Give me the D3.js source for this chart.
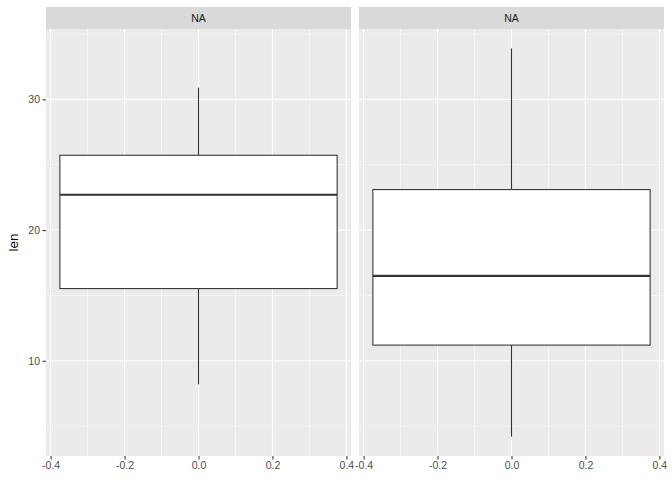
<!DOCTYPE html>
<html><head><meta charset="utf-8">
<script src="https://cdn.jsdelivr.net/npm/d3@7"></script>
<style>body{margin:0;background:#fff}</style>
</head><body>
<svg id="c" width="672" height="480"></svg>
<script>
const panels = ["NA", "NA"];
const mins = [8.2, 4.2];
const q1s = [15.525, 11.2];
const medians = [22.7, 16.5];
const q3s = [25.725, 23.1];
const maxs = [30.9, 33.9];
const xTicks = [-0.4, -0.2, 0, 0.2, 0.4];
const xMinor = [-0.3, -0.1, 0.1, 0.3];
const yTicks = [10, 20, 30];
const yMinor = [5, 15, 25, 35];

const svg = d3.select("#c");
const font = "Liberation Sans, Arial, sans-serif";
const panelX = [46, 359], panelW = 305;
const plotTop = 29, plotBottom = 456, stripTop = 7;

const y = d3.scaleLinear().domain([2.715, 35.385]).range([plotBottom, plotTop]);

panels.forEach((lab, i) => {
  const x = d3.scaleLinear().domain([-0.4125, 0.4125]).range([panelX[i], panelX[i] + panelW]);
  const g = svg.append("g");
  g.append("rect").attr("x", panelX[i]).attr("y", plotTop).attr("width", panelW).attr("height", plotBottom - plotTop).attr("fill", "#EBEBEB");
  xMinor.forEach(v => g.append("line").attr("x1", x(v)).attr("x2", x(v)).attr("y1", plotTop).attr("y2", plotBottom).attr("stroke", "#fff").attr("stroke-width", 0.53));
  yMinor.forEach(v => g.append("line").attr("x1", panelX[i]).attr("x2", panelX[i] + panelW).attr("y1", y(v)).attr("y2", y(v)).attr("stroke", "#fff").attr("stroke-width", 0.53));
  xTicks.forEach(v => g.append("line").attr("x1", x(v)).attr("x2", x(v)).attr("y1", plotTop).attr("y2", plotBottom).attr("stroke", "#fff").attr("stroke-width", 1.07));
  yTicks.forEach(v => g.append("line").attr("x1", panelX[i]).attr("x2", panelX[i] + panelW).attr("y1", y(v)).attr("y2", y(v)).attr("stroke", "#fff").attr("stroke-width", 1.07));
  g.append("rect").attr("x", panelX[i]).attr("y", stripTop).attr("width", panelW).attr("height", plotTop - stripTop).attr("fill", "#D9D9D9");
  g.append("text").attr("x", panelX[i] + panelW / 2).attr("y", (stripTop + plotTop) / 2).attr("dy", "0.35em")
    .attr("text-anchor", "middle").attr("font-family", font).attr("font-size", 10.5).attr("fill", "#1A1A1A").text(lab);
  g.append("line").attr("x1", x(0)).attr("x2", x(0)).attr("y1", y(q3s[i])).attr("y2", y(maxs[i])).attr("stroke", "#333").attr("stroke-width", 1.07);
  g.append("line").attr("x1", x(0)).attr("x2", x(0)).attr("y1", y(q1s[i])).attr("y2", y(mins[i])).attr("stroke", "#333").attr("stroke-width", 1.07);
  g.append("rect").attr("x", x(-0.375)).attr("y", y(q3s[i])).attr("width", x(0.375) - x(-0.375)).attr("height", y(q1s[i]) - y(q3s[i]))
    .attr("fill", "#fff").attr("stroke", "#333").attr("stroke-width", 1.07);
  g.append("line").attr("x1", x(-0.375)).attr("x2", x(0.375)).attr("y1", y(medians[i])).attr("y2", y(medians[i])).attr("stroke", "#333").attr("stroke-width", 2.13);
  const ax = d3.axisBottom(x).tickValues(xTicks).tickSize(3.5).tickPadding(2.5);
  const axg = svg.append("g").attr("transform", `translate(0,${plotBottom})`).call(ax);
  axg.select(".domain").remove();
  axg.selectAll(".tick line").attr("stroke", "#333").attr("stroke-width", 1.07);
  axg.selectAll(".tick text").attr("fill", "#4D4D4D").attr("font-family", font).attr("font-size", 10.5)
    .text(d => d === 0 ? "0.0" : d3.format(".1f")(d).replace("−", "-"));
});

const ay = d3.axisLeft(y).tickValues(yTicks).tickSize(3.5).tickPadding(2.5);
const ayg = svg.append("g").attr("transform", `translate(${panelX[0]},0)`).call(ay);
ayg.select(".domain").remove();
ayg.selectAll(".tick line").attr("stroke", "#333").attr("stroke-width", 1.07);
ayg.selectAll(".tick text").attr("fill", "#4D4D4D").attr("font-family", font).attr("font-size", 10.5);

svg.append("text").attr("transform", `translate(18,${(plotTop + plotBottom) / 2}) rotate(-90)`).attr("text-anchor", "middle")
  .attr("font-family", font).attr("font-size", 13.5).attr("fill", "#000").text("len");
</script>
</body></html>
